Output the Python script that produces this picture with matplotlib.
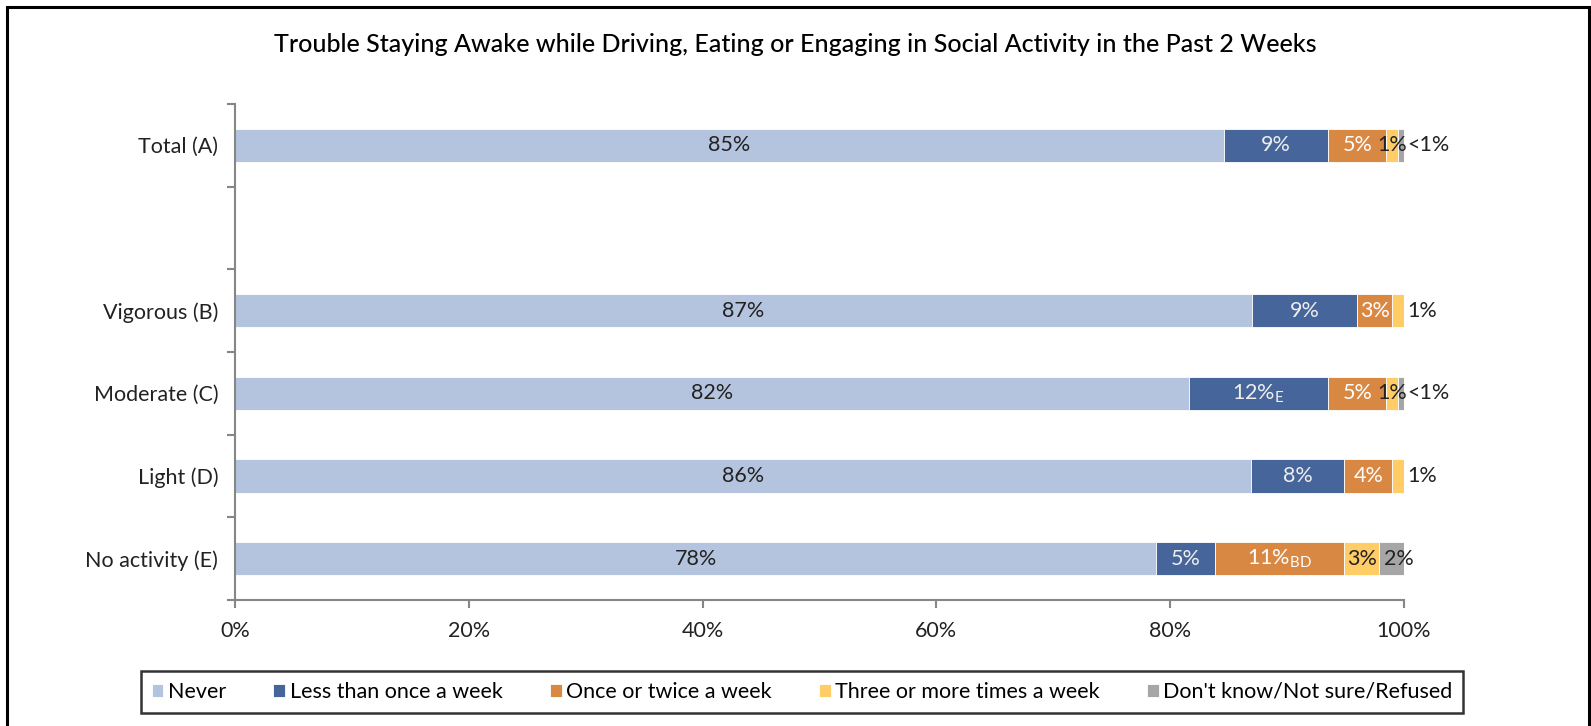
import matplotlib
matplotlib.use("Agg")
import matplotlib.pyplot as plt
from matplotlib.patches import Rectangle
import numpy as np

plt.rcParams['font.family'] = ['Lato', 'DejaVu Sans']

categories = ["Total (A)", "", "Vigorous (B)", "Moderate (C)", "Light (D)", "No activity (E)"]
series_names = ["Never", "Less than once a week", "Once or twice a week",
                "Three or more times a week", "Don't know/Not sure/Refused"]
never = [84.6, 0, 87.0, 81.6, 86.9, 78.8]
less_week = [8.9, 0, 9.0, 11.9, 8.0, 5.0]
once_twice = [5.0, 0, 3.0, 5.0, 4.1, 11.1]
three_more = [1.0, 0, 1.0, 1.0, 1.0, 3.0]
dont_know = [0.5, 0, 0.0, 0.5, 0.0, 2.1]

lbl_never = ["85%", "", "87%", "82%", "86%", "78%"]
lbl_less = ["9%", "", "9%", r"12%$_\mathregular{E}$", "8%", "5%"]
lbl_once = ["5%", "", "3%", "5%", "4%", r"11%$_\mathregular{BD}$"]
lbl_three = ["1%", "", "1%", "1%", "1%", "3%"]
lbl_dk = ["<1%", "", "", "<1%", "", "2%"]

colors = ["#b4c4de", "#46659b", "#d98843", "#ffcc66", "#a6a6a6"]
series = [never, less_week, once_twice, three_more, dont_know]

fig = plt.figure(figsize=(15.91, 7.26), dpi=100)
ax = fig.add_axes([235/1591, 1-600/726, (1404-235)/1591, (600-104)/726])

ypos = np.arange(len(categories)) + 0.5
left = np.zeros(len(categories))
for vals, col, name in zip(series, colors, series_names):
    ax.barh(ypos, vals, left=left, height=0.4, color=col, label=name,
            edgecolor='white', linewidth=0.6)
    left += np.array(vals)

fs = 15.5
cum = np.zeros(len(categories))
starts = []
for vals in series:
    starts.append(cum.copy())
    cum += np.array(vals)

for i, y in enumerate(ypos):
    if categories[i] == "":
        continue
    s = [st[i] for st in starts]
    v = [ser[i] for ser in series]
    ax.text(s[0] + v[0]/2, y, lbl_never[i], ha='center', va='center', fontsize=fs, color='#222222')
    ax.text(s[1] + v[1]/2, y, lbl_less[i], ha='center', va='center', fontsize=fs, color='#eeeeee')
    ax.text(s[2] + v[2]/2, y, lbl_once[i], ha='center', va='center', fontsize=fs, color='white')
    if v[4] > 0.6:
        ax.text(s[3] + v[3]/2, y, lbl_three[i], ha='center', va='center', fontsize=fs, color='#222222')
        ax.text(s[4] + v[4]/2 + 0.6, y, lbl_dk[i], ha='center', va='center', fontsize=fs, color='#222222')
    elif v[4] > 0:
        ax.text(s[3] + v[3]/2, y, lbl_three[i], ha='center', va='center', fontsize=fs, color='#222222')
        ax.text(100.3, y, lbl_dk[i], ha='left', va='center', fontsize=fs, color='#222222')
    else:
        ax.text(100.3, y, lbl_three[i], ha='left', va='center', fontsize=fs, color='#222222')

ax.set_xlim(0, 100)
ax.set_ylim(len(categories), 0)
ax.set_xticks([0, 20, 40, 60, 80, 100])
ax.set_xticklabels(["0%", "20%", "40%", "60%", "80%", "100%"], fontsize=fs, color='#222222')
ax.set_yticks(np.arange(len(categories) + 1))
ax.set_yticklabels([])
ax.set_yticks(ypos, minor=True)
ax.set_yticklabels(categories, minor=True, fontsize=fs, color='#222222')
ax.tick_params(axis='y', which='minor', length=0, pad=12)
ax.tick_params(axis='y', which='major', length=6, color='#868686', width=1.5)
ax.tick_params(axis='x', length=6, color='#868686', width=1.5, pad=9)
for sp in ['top', 'right']:
    ax.spines[sp].set_visible(False)
for sp in ['left', 'bottom']:
    ax.spines[sp].set_color('#868686')
    ax.spines[sp].set_linewidth(1.5)

fig.text(0.5, 1-44/726, "Trouble Staying Awake while Driving, Eating or Engaging in Social Activity in the Past 2 Weeks",
         ha='center', va='center', fontsize=18, color='black', fontweight='medium')

leg = fig.legend(loc='center', bbox_to_anchor=(802/1591, 1-692/726), ncol=5,
                 fontsize=fs, frameon=True, fancybox=False, edgecolor='black',
                 handlelength=0.55, handleheight=0.55, handletextpad=0.2,
                 columnspacing=2.2, borderpad=0.5)
leg.get_frame().set_linewidth(1.8)

fig.patches.append(Rectangle((7/1591, -0.05), (1589-7)/1591, 1.05 - 7/726,
                             transform=fig.transFigure, fill=False,
                             edgecolor='black', linewidth=2.2))

fig.savefig("out.png", dpi=100)
